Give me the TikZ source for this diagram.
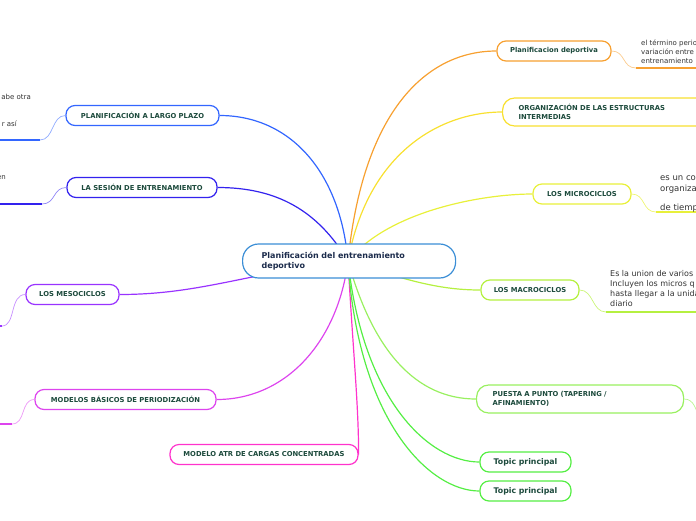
\documentclass[tikz,border=0pt]{standalone}
\usepackage{fontspec}
\setmainfont{DejaVu Sans}
\definecolor{hubC}{HTML}{3B8ED6}
\definecolor{largoC}{HTML}{3366FF}
\definecolor{sesionC}{HTML}{3322EE}
\definecolor{mesoC}{HTML}{9933FF}
\definecolor{basicosC}{HTML}{DD44EE}
\definecolor{atrC}{HTML}{FF33CC}
\definecolor{depC}{HTML}{F7A030}
\definecolor{orgC}{HTML}{F8E030}
\definecolor{microC}{HTML}{E8F03A}
\definecolor{macroC}{HTML}{B5F040}
\definecolor{puestaC}{HTML}{99F060}
\definecolor{topicC}{HTML}{55EE44}
\definecolor{txtgreen}{HTML}{1C4A3C}
\definecolor{txtnavy}{HTML}{1C2C4C}
\definecolor{notegray}{HTML}{333333}

\begin{document}
\begin{tikzpicture}[x=1pt,y=-1pt,
  topic/.style={draw=#1, rounded corners=9pt, line width=1.2pt, fill=white,
    text=txtgreen, font=\bfseries\fontsize{6.8}{9}\selectfont,
    minimum height=20pt, inner sep=0pt},
  bigtopic/.style={topic=#1, rounded corners=12pt, minimum height=28pt,
    anchor=west, align=left, inner xsep=16pt},
  note/.style={align=left, text=notegray, inner sep=0pt},
  link/.style={line width=1.2pt},
  twig/.style={line width=0.7pt},
  under/.style={line width=2pt}]
  \clip (0,0) rectangle (696,520);

  % Hub point
  \coordinate (hub) at (348,261);

  % Main topics, left side
  \node[topic=largoC, minimum width=153pt] (largo) at (142.5,115.5)
    {PLANIFICACIÓN A LARGO PLAZO};
  \node[topic=sesionC, minimum width=150pt] (sesion) at (142,187.5)
    {LA SESIÓN DE ENTRENAMIENTO};
  \node[topic=mesoC, minimum width=93pt] (meso) at (72.5,294.5)
    {LOS MESOCICLOS};
  \node[topic=basicosC, minimum width=181pt] (basicos) at (125.5,399.5)
    {MODELOS BÁSICOS DE PERIODIZACIÓN};
  \node[topic=atrC, minimum width=188pt] (atr) at (264,454.5)
    {MODELO ATR DE CARGAS CONCENTRADAS};

  % Main topics, right side
  \node[topic=depC, minimum width=114pt] (deportiva) at (554,51)
    {Planificacion deportiva};
  \node[bigtopic=orgC, text width=200pt] (org) at (502,112)
    {ORGANIZACIÓN DE LAS ESTRUCTURAS\\INTERMEDIAS};
  \node[topic=microC, minimum width=98pt] (micro) at (582,194)
    {LOS MICROCICLOS};
  \node[topic=macroC, minimum width=98pt] (macro) at (530,290)
    {LOS MACROCICLOS};
  \node[bigtopic=puestaC, text width=175pt] (puesta) at (476,399)
    {PUESTA A PUNTO (TAPERING /\\AFINAMIENTO)};
  \node[topic=topicC, minimum width=91pt, font=\bfseries\fontsize{7.8}{9}\selectfont] (topic1) at (525.5,462)
    {Topic principal};
  \node[topic=topicC, minimum width=91pt, font=\bfseries\fontsize{7.8}{9}\selectfont] (topic2) at (525.5,491)
    {Topic principal};

  % Branches from the hub
  \draw[link, largoC] (hub) .. controls +(-8,-90) and +(70,0) .. (largo.east);
  \draw[link, sesionC] (hub) .. controls +(-30,-50) and +(60,0) .. (sesion.east);
  \draw[link, mesoC] (hub) .. controls +(-100,12) and +(80,0) .. (meso.east);
  \draw[link, basicosC] (hub) .. controls +(-10,80) and +(70,0) .. (basicos.east);
  \draw[link, atrC] (hub) .. controls +(5,90) and +(0,-50) .. (atr.east);
  \draw[link, depC] (hub) .. controls +(15,-150) and +(-70,0) .. (deportiva.west);
  \draw[link, orgC] (hub) .. controls +(20,-110) and +(-60,0) .. (org.west);
  \draw[link, microC] (hub) .. controls +(40,-50) and +(-50,0) .. (micro.west);
  \draw[link, macroC] (hub) .. controls +(60,20) and +(-40,0) .. (macro.west);
  \draw[link, puestaC] (hub) .. controls +(25,90) and +(-60,0) .. (puesta.west);
  \draw[link, topicC] (hub) .. controls +(15,140) and +(-50,0) .. (topic1.west);
  \draw[link, topicC] (hub) .. controls +(10,160) and +(-50,0) .. (topic2.west);

  % Central topic
  \node[draw=hubC, line width=1.2pt, rounded corners=16pt, fill=white, anchor=west,
    minimum height=34pt, text width=175pt, inner xsep=19pt, align=left,
    text=txtnavy, font=\bfseries\fontsize{8}{10}\selectfont] (center) at (242,261)
    {Planificación del entrenamiento\\deportivo};

  % Subtopics on the left (cut by the border)
  \coordinate (largofoot) at (40,140);
  \coordinate (largoedge) at (-5,140);
  \draw[twig, largoC!55] (largo.west) .. controls +(-14,0) and +(14,0) .. (largofoot);
  \draw[under, largoC] (largofoot) -- (largoedge);
  \node[note, anchor=east, font=\fontsize{7}{9}\selectfont] (largonote1) at (31,97) {abe otra};
  \node[note, anchor=east, font=\fontsize{7}{9}\selectfont] (largonote2) at (17,124) {r así};

  \coordinate (sesionfoot) at (42,204);
  \coordinate (sesionedge) at (-5,204);
  \draw[twig, sesionC!55] (sesion.west) .. controls +(-14,0) and +(14,0) .. (sesionfoot);
  \draw[under, sesionC] (sesionfoot) -- (sesionedge);
  \node[note, anchor=east, font=\fontsize{7}{9}\selectfont] (sesionnote) at (6,178) {en};

  \coordinate (mesofoot) at (2,326);
  \coordinate (mesoedge) at (-5,326);
  \draw[twig, mesoC!55] (meso.west) .. controls +(-16,0) and +(14,0) .. (mesofoot);
  \draw[under, mesoC] (mesofoot) -- (mesoedge);

  \coordinate (basicosfoot) at (12,424);
  \coordinate (basicosedge) at (-5,424);
  \draw[twig, basicosC!55] (basicos.west) .. controls +(-14,0) and +(14,0) .. (basicosfoot);
  \draw[under, basicosC] (basicosfoot) -- (basicosedge);

  % Subtopics on the right (cut by the border)
  \coordinate (depfoot) at (636,68);
  \coordinate (depedge) at (700,68);
  \draw[twig, depC!55] (deportiva.east) .. controls +(14,0) and +(-14,0) .. (depfoot);
  \draw[under, depC] (depfoot) -- (depedge);
  \node[note, anchor=west, font=\fontsize{7}{9}\selectfont] (depnote) at (641,52)
    {el término perio\\variación entre\\entrenamiento};

  \coordinate (microfoot) at (656,212);
  \coordinate (microedge) at (700,212);
  \draw[twig, microC!70] (micro.east) .. controls +(14,0) and +(-14,0) .. (microfoot);
  \draw[under, microC] (microfoot) -- (microedge);
  \node[note, anchor=west, font=\fontsize{8.5}{11}\selectfont] (micronote1) at (660,184.5)
    {es un co\\organiza};
  \node[note, anchor=west, font=\fontsize{8.5}{11}\selectfont] (micronote2) at (660,208)
    {de tiemp};

  \coordinate (macrofoot) at (606,312);
  \coordinate (macroedge) at (700,312);
  \draw[twig, macroC!70] (macro.east) .. controls +(14,0) and +(-14,0) .. (macrofoot);
  \draw[under, macroC] (macrofoot) -- (macroedge);
  \node[note, anchor=west, font=\fontsize{8}{9.7}\selectfont] (macronote) at (610,288.5)
    {Es la union de varios\\Incluyen los micros q\\hasta llegar a la unida\\diario};

  \coordinate (puestafoot) at (700,420);
  \draw[twig, puestaC!70] (puesta.east) .. controls +(10,0) and +(-4,-10) .. (puestafoot);

\end{tikzpicture}
\end{document}
